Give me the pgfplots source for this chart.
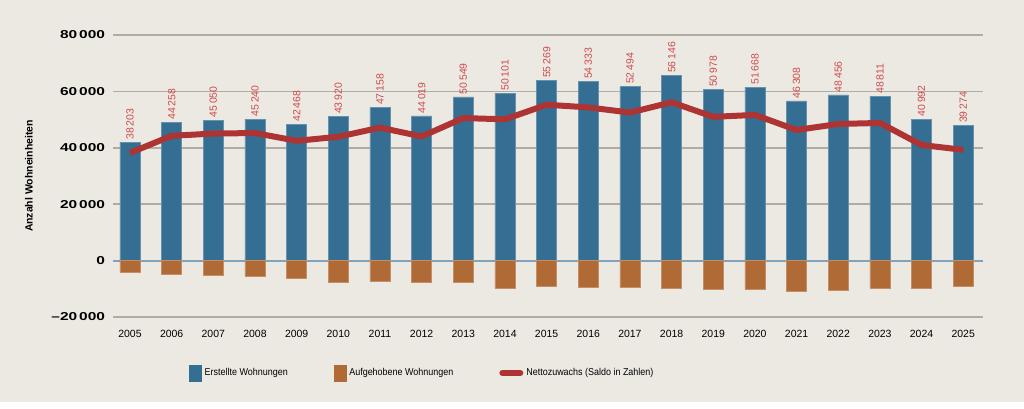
\documentclass[border=0pt]{standalone}
\usepackage{pgfplots}
\pgfplotsset{compat=1.18}
\usepackage{pgfplotstable}
\usepackage{fontspec}
\setmainfont{Liberation Sans}
\newfontfamily\ytfont[FakeStretch=1.35]{Liberation Sans}
\newfontfamily\legfont[FakeStretch=0.9]{Liberation Sans}
\definecolor{bg}{HTML}{ECE9E2}
\definecolor{barblue}{HTML}{346E93}
\definecolor{barorange}{HTML}{B06A35}
\definecolor{linered}{HTML}{AE3434}
\definecolor{labelred}{HTML}{CF4A4E}
\definecolor{gridgray}{HTML}{B1ACA3}
\definecolor{zeroblue}{HTML}{7FA4BF}

\pgfplotstableread{
year created removed net
2005 42000 -4100 38203
2006 49050 -4950 44258
2007 49850 -5050 45050
2008 50200 -5400 45240
2009 48350 -6350 42468
2010 51050 -7550 43920
2011 54250 -7200 47158
2012 51300 -7800 44019
2013 58050 -7700 50549
2014 59300 -9650 50101
2015 63800 -9100 55269
2016 63450 -9450 54333
2017 61700 -9450 52494
2018 65600 -9700 56146
2019 60600 -10050 50978
2020 61450 -10050 51668
2021 56600 -10850 46308
2022 58750 -10500 48456
2023 58250 -9700 48811
2024 50200 -9700 40992
2025 47850 -9000 39274
}\datatable

\begin{document}
\begin{tikzpicture}[x=1bp,y=1bp]
\fill[bg] (-113,-91) rectangle (911,317);
\fill[white] (-113,-91) rectangle (911,-85);
\useasboundingbox (-113,-91) rectangle (911,317);
\begin{axis}[
  at={(0,0)}, anchor=south west,
  scale only axis, width=870bp, height=282bp,
  xmin=2004.592, xmax=2025.473,
  ymin=-20000, ymax=80000,
  scaled y ticks=false, scaled x ticks=false,
  clip=false,
  axis line style={draw=none},
  tick style={draw=none},
  major tick length=0pt,
  /pgf/number format/assume math mode=true,
  ytick={-20000,0,20000,40000,60000,80000},
  yticklabels={{–20\,000},{0},{20\,000},{40\,000},{60\,000},{80\,000}},
  yticklabel style={font=\ytfont\bfseries\fontsize{11.5}{13}\selectfont, xshift=-4.5bp},
  xtick={2005,...,2025},
  xticklabel style={font=\fontsize{10.5}{12}\selectfont, /pgf/number format/1000 sep={}, yshift=-9.5bp},
  ymajorgrids,
  grid style={gridgray, line width=1.8bp},
  every axis y label/.style={at={(axis description cs:0,0.5)}, xshift=-84bp, rotate=90, anchor=center},
  ylabel={Anzahl Wohneinheiten},
  ylabel style={font=\bfseries\fontsize{10.5}{12}\selectfont},
  legend columns=3,
  legend style={at={(0.0874,-0.1986)}, anchor=west, draw=none, fill=none, inner sep=0pt,
    font=\legfont\fontsize{10}{12}\selectfont,
    nodes={inner sep=3bp},
    /tikz/every even column/.append style={column sep=43bp}},
  legend cell align=left,
]
\draw[zeroblue, line width=1.8bp] (axis cs:2004.592,0) -- (axis cs:2025.473,0);
\addplot[ybar, bar width=20bp, bar shift=0pt, fill=barblue, draw=barblue!75!white, line width=0.5bp,
  point meta=explicit,
  nodes near coords={\pgfmathprintnumber[fixed, precision=0, 1000 sep={\,}]{\pgfplotspointmeta}},
  nodes near coords style={rotate=90, anchor=west, text=labelred, inner sep=2.5bp, font=\fontsize{10.5}{12}\selectfont},
  legend image code/.code={\fill[barblue] (0bp,-8bp) rectangle (12bp,8bp);}
] table[x=year, y=created, meta=net] {\datatable};
\addlegendentry{Erstellte Wohnungen}
\addplot[ybar, bar width=20bp, bar shift=0pt, fill=barorange, draw=barorange!75!white, line width=0.5bp,
  legend image code/.code={\fill[barorange] (0bp,-8bp) rectangle (12bp,8bp);}
] table[x=year, y=removed] {\datatable};
\addlegendentry{Aufgehobene Wohnungen}
\addplot[linered, line width=6bp, line join=round, mark=none,
  legend image code/.code={\draw[linered, line width=6bp, line cap=round] (3bp,0bp) -- (21bp,0bp);}
] table[x=year, y=net] {\datatable};
\addlegendentry{Nettozuwachs (Saldo in Zahlen)}
\end{axis}
\end{tikzpicture}
\end{document}
